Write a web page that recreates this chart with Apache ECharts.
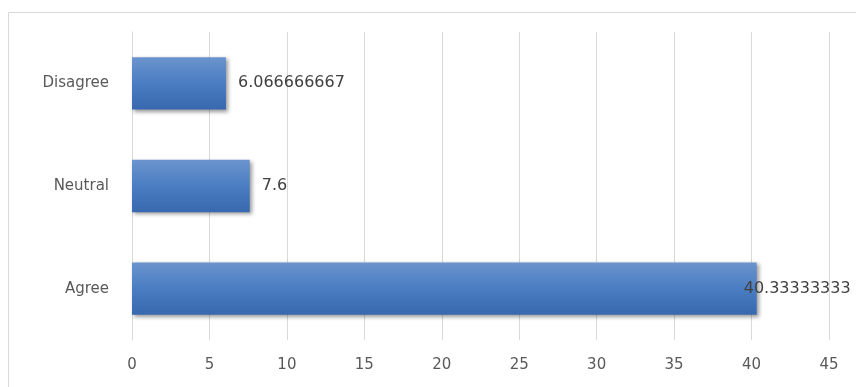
<!DOCTYPE html>
<html>
<head>
<meta charset="utf-8">
<script src="https://cdn.jsdelivr.net/npm/echarts@6/dist/echarts.min.js"></script>
<style>
  html, body { margin: 0; padding: 0; background: #fff; }
  #chart { width: 856px; height: 387px; }
</style>
</head>
<body>
<div id="chart"></div>
<script>
// categories bottom to top, like the original
var categories = ['Agree', 'Neutral', 'Disagree'];
var values = [40.33333333, 7.6, 6.066666667];
var labels = ['40.33333333', '7.6', '6.066666667'];

var textGrey = '#595959';
var lineGrey = '#D9D9D9';

var chartDom = document.getElementById('chart');
var myChart = echarts.init(chartDom);

// bar data, Agree label sits over the end of the bar as in the picture
var barData = values.map(function (v, i) {
  var item = { value: v, label: { formatter: labels[i] } };
  if (i === 0) item.label.offset = [-25, 0];
  return item;
});

var option = {
  animation: false,
  graphic: [{
    type: 'rect',
    shape: { x: 8.5, y: 12.5, width: 900, height: 420 },
    style: { fill: 'none', stroke: lineGrey, lineWidth: 1 },
    silent: true,
    z: -10
  }],
  grid: { left: 132, right: 27, top: 32, bottom: 47 },
  xAxis: {
    type: 'value',
    min: 0,
    max: 45,
    interval: 5,
    axisLine: { show: false },
    axisTick: { show: false },
    axisLabel: { color: textGrey, fontFamily: 'DejaVu Sans', fontSize: 15, margin: 18 },
    splitLine: { lineStyle: { color: lineGrey, width: 1 } }
  },
  yAxis: {
    type: 'category',
    data: categories,
    axisLine: { show: true, lineStyle: { color: lineGrey, width: 1 } },
    axisTick: { show: false },
    axisLabel: { color: textGrey, fontFamily: 'DejaVu Sans', fontSize: 15, margin: 23 }
  },
  series: [{
    type: 'bar',
    data: barData,
    barCategoryGap: '49%',
    itemStyle: {
      color: new echarts.graphic.LinearGradient(0, 0, 0, 1, [
        { offset: 0, color: '#6B94CD' },
        { offset: 0.5, color: '#4A7DC2' },
        { offset: 1, color: '#3868AE' }
      ]),
      shadowColor: 'rgba(0,0,0,0.4)',
      shadowBlur: 4,
      shadowOffsetX: 2,
      shadowOffsetY: 2
    },
    label: {
      show: true,
      position: 'right',
      distance: 12,
      color: '#404040',
      fontFamily: 'DejaVu Sans',
      fontSize: 16
    }
  }]
};

myChart.setOption(option);
</script>
</body>
</html>
